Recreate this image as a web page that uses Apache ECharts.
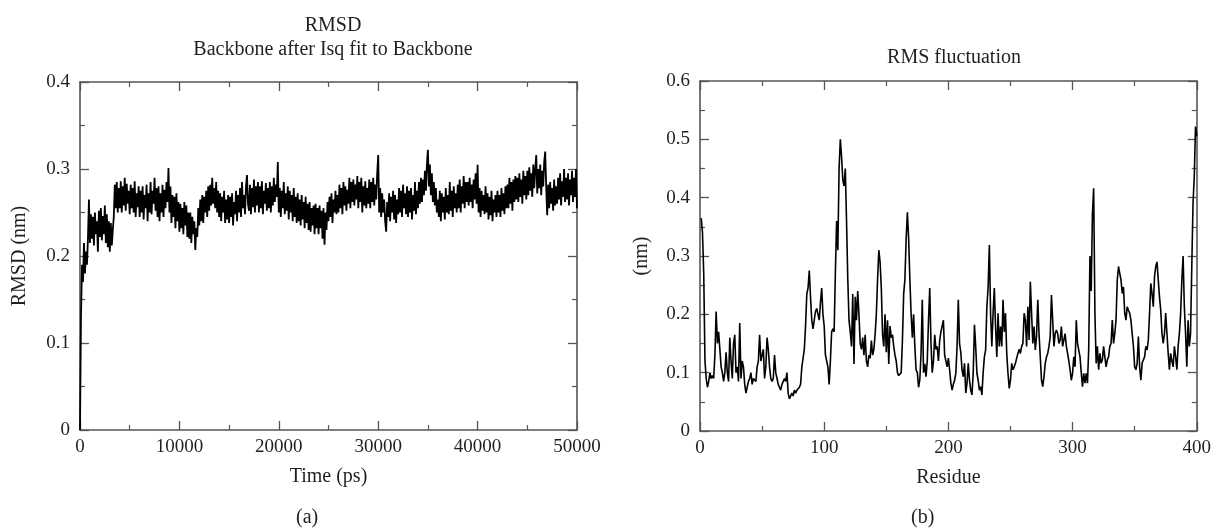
<!DOCTYPE html>
<html>
<head>
<meta charset="utf-8">
<script src="https://cdn.jsdelivr.net/npm/echarts@6/dist/echarts.min.js"></script>
<style>
html,body{margin:0;padding:0;background:#fff;}
#c{width:1214px;height:529px;}
</style>
</head>
<body>
<div id="c"></div>
<script>
// ---------- Panel (a): RMSD, one value every 100 ps from 0 to 50000 ps ----------
const rmsdTimeStep = 100; // ps
const rmsdValues = [
0,.13,.19,.17,.215,.18,.205,.19,.22,.265,
.215,.248,.22,.245,.212,.25,.225,.24,.205,.252,
.222,.255,.218,.246,.225,.258,.215,.248,.21,.24,
.205,.238,.212,.23,.245,.282,.255,.285,.25,.278,
.255,.286,.25,.28,.258,.29,.252,.283,.26,.275,
.248,.282,.255,.278,.25,.286,.245,.272,.256,.28,
.245,.275,.25,.28,.242,.27,.255,.282,.24,.272,
.25,.285,.248,.275,.26,.29,.252,.278,.245,.28,
.24,.272,.25,.282,.245,.276,.255,.285,.262,.301,
.25,.28,.238,.27,.245,.268,.232,.272,.24,.262,
.228,.26,.232,.255,.225,.262,.235,.258,.222,.25,
.22,.25,.215,.245,.225,.24,.207,.232,.222,.255,
.235,.265,.24,.27,.238,.268,.25,.275,.245,.28,
.252,.282,.258,.29,.26,.278,.255,.285,.25,.275,
.245,.272,.24,.268,.25,.275,.238,.265,.242,.27,
.238,.268,.245,.272,.235,.262,.248,.275,.24,.27,
.25,.278,.245,.285,.255,.27,.248,.28,.293,.26,
.252,.282,.248,.278,.256,.288,.25,.28,.258,.285,
.25,.28,.255,.286,.248,.275,.26,.284,.252,.278,
.255,.285,.25,.28,.258,.29,.262,.282,.268,.308,
.25,.278,.245,.275,.255,.285,.248,.272,.252,.28,
.242,.275,.25,.27,.24,.278,.245,.268,.238,.272,
.24,.265,.235,.27,.242,.262,.232,.268,.238,.26,
.23,.262,.228,.255,.235,.258,.225,.26,.232,.255,
.225,.258,.232,.252,.22,.255,.213,.25,.23,.262,
.24,.268,.245,.272,.238,.265,.25,.275,.248,.27,
.25,.282,.255,.278,.248,.285,.258,.28,.252,.276,
.26,.29,.255,.285,.262,.288,.258,.282,.265,.292,
.255,.285,.262,.29,.25,.28,.258,.286,.255,.278,
.26,.288,.255,.285,.262,.29,.258,.282,.265,.295,
.316,.25,.278,.245,.272,.25,.265,.24,.228,.262,
.245,.272,.24,.268,.25,.275,.242,.27,.238,.265,
.248,.278,.25,.275,.245,.282,.255,.272,.248,.28,
.245,.275,.25,.278,.242,.27,.252,.285,.248,.275,
.255,.285,.26,.29,.262,.288,.27,.298,.275,.305,
.322,.28,.305,.27,.295,.262,.285,.258,.278,.25,
.265,.245,.275,.24,.272,.25,.268,.242,.278,.25,
.27,.248,.285,.252,.275,.245,.28,.255,.272,.25,
.282,.255,.288,.25,.28,.26,.292,.255,.285,.262,
.285,.258,.29,.262,.282,.255,.288,.265,.295,.26,
.305,.25,.278,.245,.275,.252,.27,.248,.28,.25,
.272,.242,.268,.247,.275,.24,.265,.25,.27,.245,
.275,.25,.27,.245,.278,.252,.272,.248,.28,.255,
.282,.255,.29,.26,.285,.252,.288,.262,.292,.265,
.29,.262,.295,.268,.288,.26,.298,.27,.292,.265,
.298,.27,.302,.275,.295,.268,.305,.278,.3,.316,
.272,.3,.278,.305,.27,.298,.28,.308,.32,.28,
.247,.282,.255,.285,.26,.278,.252,.288,.258,.28,
.26,.29,.265,.295,.258,.286,.268,.3,.262,.29,
.265,.295,.258,.288,.27,.298,.262,.29,.268,.3,
.255
];
const rmsdXTicks = [0, 10000, 20000, 30000, 40000, 50000];
const rmsdYTicks = [0, 0.1, 0.2, 0.3, 0.4];

// ---------- Panel (b): RMS fluctuation per residue, residues 1..400 ----------
const rmsfFirstResidue = 1;
const rmsfValues = [
.365,.34,.27,.12,.09,.075,.085,.10,.09,.095,
.09,.13,.205,.15,.17,.14,.11,.10,.085,.10,
.135,.10,.085,.16,.12,.09,.15,.165,.10,.11,
.085,.185,.09,.12,.11,.08,.065,.075,.085,.09,
.10,.08,.09,.09,.085,.11,.12,.165,.12,.13,
.14,.09,.11,.16,.14,.11,.09,.085,.09,.13,
.10,.09,.08,.075,.07,.08,.085,.09,.085,.10,
.065,.055,.06,.065,.06,.07,.065,.07,.07,.075,
.08,.11,.125,.14,.18,.235,.245,.275,.23,.19,
.175,.19,.205,.21,.20,.19,.22,.245,.20,.18,
.13,.12,.11,.08,.12,.17,.175,.17,.27,.36,
.31,.45,.50,.47,.43,.42,.45,.36,.26,.19,
.17,.145,.235,.115,.23,.19,.24,.20,.15,.14,
.16,.13,.165,.12,.11,.13,.125,.155,.13,.14,
.165,.20,.26,.31,.29,.245,.165,.145,.20,.135,
.19,.115,.18,.16,.165,.145,.13,.12,.10,.095,
.096,.10,.155,.235,.26,.33,.375,.33,.26,.20,
.16,.20,.145,.105,.10,.075,.088,.133,.225,.10,
.115,.093,.12,.19,.245,.15,.10,.12,.165,.14,
.145,.12,.155,.17,.18,.19,.13,.12,.11,.125,
.105,.082,.07,.08,.087,.099,.145,.225,.15,.135,
.105,.093,.116,.065,.082,.116,.087,.07,.062,.099,
.182,.145,.099,.087,.07,.076,.062,.10,.127,.139,
.213,.247,.319,.20,.145,.202,.245,.179,.127,.202,
.145,.179,.145,.225,.17,.202,.133,.099,.073,.087,
.116,.105,.11,.116,.125,.133,.14,.133,.145,.15,
.202,.19,.145,.213,.156,.256,.202,.15,.179,.139,
.162,.225,.167,.127,.087,.076,.093,.116,.127,.133,
.145,.162,.233,.19,.145,.167,.173,.167,.15,.156,
.179,.145,.156,.167,.145,.133,.12,.105,.087,.099,
.127,.11,.19,.15,.15,.127,.10,.076,.099,.082,
.099,.082,.14,.30,.24,.373,.416,.202,.116,.145,
.105,.133,.116,.122,.145,.127,.11,.122,.127,.145,
.15,.19,.15,.167,.19,.259,.282,.27,.259,.236,
.247,.202,.19,.213,.207,.202,.19,.167,.145,.11,
.105,.116,.162,.11,.087,.116,.122,.127,.145,.139,
.156,.202,.253,.236,.213,.265,.282,.29,.259,.23,
.207,.167,.15,.167,.202,.167,.133,.105,.133,.12,
.11,.145,.127,.105,.145,.167,.20,.259,.30,.213,
.167,.11,.19,.145,.167,.282,.39,.436,.522,.505
];
const rmsfXTicks = [0, 100, 200, 300, 400];
const rmsfYTicks = [0, 0.1, 0.2, 0.3, 0.4, 0.5, 0.6];

// ---------- build ----------
const rmsdData = rmsdValues.map((v, i) => [i * rmsdTimeStep, v]);
const rmsfData = rmsfValues.map((v, i) => [rmsfFirstResidue + i, v]);

const FONT = 'Liberation Serif';
const TXT = '#231f20';
const AX = '#555555';

function mkAxis(gridIndex, position, ticks, showLabel, extra) {
  const step = ticks[1] - ticks[0];
  return Object.assign({
    type: 'value',
    gridIndex: gridIndex,
    position: position,
    min: ticks[0],
    max: ticks[ticks.length - 1],
    interval: step,
    axisLine: { show: true, onZero: false, lineStyle: { color: AX, width: 1.6 } },
    axisTick: { show: true, inside: true, length: 9, lineStyle: { color: AX, width: 1.3 } },
    minorTick: { show: true, splitNumber: 2, length: 5, lineStyle: { color: AX, width: 1.2 } },
    splitLine: { show: false },
    minorSplitLine: { show: false },
    axisLabel: {
      show: showLabel,
      fontFamily: FONT, fontSize: 19, color: TXT,
      formatter: v => String(Math.round(v * 1000) / 1000)
    }
  }, extra || {});
}

const nameStyle = { fontFamily: FONT, fontSize: 20, color: TXT };

const option = {
  animation: false,
  backgroundColor: '#ffffff',
  title: [
    {
      text: 'RMSD\nBackbone after Isq fit to Backbone',
      left: 328, top: 9, textAlign: 'center',
      textStyle: { fontFamily: FONT, fontSize: 20, fontWeight: 'normal', color: TXT, lineHeight: 24 }
    },
    {
      text: 'RMS fluctuation',
      left: 949, top: 41, textAlign: 'center',
      textStyle: { fontFamily: FONT, fontSize: 20, fontWeight: 'normal', color: TXT, lineHeight: 24 }
    }
  ],
  grid: [
    { left: 80, top: 82, width: 497, height: 348 },
    { left: 700, top: 81, width: 499, height: 350 }
  ],
  xAxis: [
    mkAxis(0, 'bottom', rmsdXTicks, true, {
      name: 'Time (ps)', nameLocation: 'middle', nameGap: 37, nameTextStyle: nameStyle,
      axisLabel: { fontFamily: FONT, fontSize: 19, color: TXT, margin: 8, formatter: v => String(v) }
    }),
    mkAxis(0, 'top', rmsdXTicks, false),
    mkAxis(1, 'bottom', rmsfXTicks, true, {
      name: 'Residue', nameLocation: 'middle', nameGap: 37, nameTextStyle: nameStyle,
      axisLabel: { fontFamily: FONT, fontSize: 19, color: TXT, margin: 8, formatter: v => String(v) }
    }),
    mkAxis(1, 'top', rmsfXTicks, false)
  ],
  yAxis: [
    mkAxis(0, 'left', rmsdYTicks, true, {
      name: 'RMSD (nm)', nameLocation: 'middle', nameGap: 50, nameRotate: 90, nameTextStyle: nameStyle,
      axisLabel: { fontFamily: FONT, fontSize: 19, color: TXT, margin: 10, formatter: v => String(Math.round(v * 10) / 10) }
    }),
    mkAxis(0, 'right', rmsdYTicks, false),
    mkAxis(1, 'left', rmsfYTicks, true, {
      name: '(nm)', nameLocation: 'middle', nameGap: 48, nameRotate: 90, nameTextStyle: nameStyle,
      axisLabel: { fontFamily: FONT, fontSize: 19, color: TXT, margin: 10, formatter: v => String(Math.round(v * 10) / 10) }
    }),
    mkAxis(1, 'right', rmsfYTicks, false)
  ],
  graphic: [
    { type: 'text', left: 296, top: 508, style: { text: '(a)', font: '20px "Liberation Serif"', fill: TXT } },
    { type: 'text', left: 911, top: 508, style: { text: '(b)', font: '20px "Liberation Serif"', fill: TXT } }
  ],
  series: [
    {
      type: 'line', xAxisIndex: 0, yAxisIndex: 0, data: rmsdData,
      showSymbol: false, symbol: 'none', silent: true,
      lineStyle: { color: '#000000', width: 1.8 }
    },
    {
      type: 'line', xAxisIndex: 2, yAxisIndex: 2, data: rmsfData,
      showSymbol: false, symbol: 'none', silent: true,
      lineStyle: { color: '#000000', width: 1.6 }
    }
  ]
};

const chart = echarts.init(document.getElementById('c'), null, { renderer: 'canvas' });
chart.setOption(option);
</script>
</body>
</html>
